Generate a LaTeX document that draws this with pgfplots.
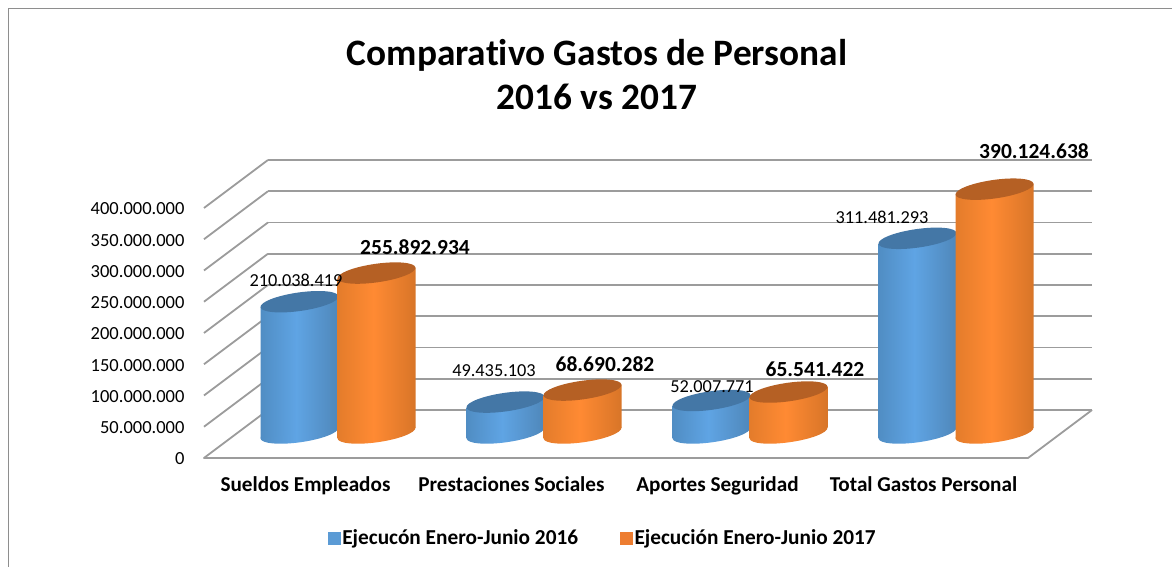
\documentclass[border=0pt]{standalone}
\usepackage{fontspec}
\setmainfont[Ligatures=NoCommon]{Carlito}
\usepackage{pgfplots}
\usepackage{pgfplotstable}
\pgfplotsset{compat=1.18}
\definecolor{gridc}{HTML}{9C9C9C}
\definecolor{frameC}{HTML}{8E8E8E}
\definecolor{sA}{HTML}{2F5F8C}\definecolor{sB}{HTML}{4E8ABF}\definecolor{sC}{HTML}{5FA4E4}\definecolor{sD}{HTML}{4F87BA}\definecolor{sE}{HTML}{38699A}
\definecolor{oA}{HTML}{8C4A17}\definecolor{oB}{HTML}{E07A2A}\definecolor{oC}{HTML}{FF8A33}\definecolor{oD}{HTML}{D87528}\definecolor{oE}{HTML}{8F4C18}
\definecolor{capB}{HTML}{4477A6}\definecolor{capO}{HTML}{B56024}
\definecolor{legB}{HTML}{5B9BD5}\definecolor{legO}{HTML}{ED7D31}
\pgfdeclarehorizontalshading{cylblue}{100bp}{color(0bp)=(sA); color(22bp)=(sB); color(48bp)=(sC); color(75bp)=(sD); color(100bp)=(sE)}
\pgfdeclarehorizontalshading{cylorange}{100bp}{color(0bp)=(oA); color(22bp)=(oB); color(48bp)=(oC); color(75bp)=(oD); color(100bp)=(oE)}
\newdimen\cylh
\newcommand\cylinder[3]{% x offset, shading, cap colour
  \pgftransformxshift{#1}%
  \cylh=\cylv pt\relax
  \begin{pgfscope}
    \pgfpathellipse{\pgfpoint{0pt}{-\cylh}}{\pgfpoint{39pt}{5.5pt}}{\pgfpoint{-1.2pt}{9.2pt}}%
    \pgfshadepath{#2}{0}\pgfusepath{discard}%
  \end{pgfscope}
  \begin{pgfscope}
    \pgfpathmoveto{\pgfpoint{-39pt}{-5.3pt}}%
    \pgfpathlineto{\pgfpoint{39pt}{5.3pt}}%
    \pgfpathlineto{\pgfpointadd{\pgfpoint{39pt}{5.3pt}}{\pgfpoint{0pt}{-\cylh}}}%
    \pgfpathlineto{\pgfpointadd{\pgfpoint{-39pt}{-5.3pt}}{\pgfpoint{0pt}{-\cylh}}}%
    \pgfpathclose
    \pgfshadepath{#2}{0}\pgfusepath{discard}%
  \end{pgfscope}
  \begin{pgfscope}
    \pgfsetfillcolor{#3}%
    \pgfpathellipse{\pgfpointorigin}{\pgfpoint{39pt}{5.5pt}}{\pgfpoint{-1.2pt}{9.2pt}}%
    \pgfusepath{fill}%
  \end{pgfscope}
}
\pgfdeclareplotmark{cylB}{\cylinder{-39.5pt}{cylblue}{capB}}
\pgfdeclareplotmark{cylO}{\cylinder{37.5pt}{cylorange}{capO}}
\pgfplotstableread{
x y lbl dx dy
0 210038419 210.038.419 -43 21
1 49435103 49.435.103 -51 31
2 52007771 52.007.771 -39 13.5
3 311481293 311.481.293 -75 21
}\seriesA
\pgfplotstableread{
x y lbl dx dy
0 255892934 255.892.934 76 26
1 68690282 68.690.282 60 26
2 65541422 65.541.422 64 23
3 390124638 390.124.638 77 38
}\seriesB
\pgfplotsset{base/.style={
  scale only axis, width=824pt, height=250pt, anchor=south west,
  xmin=-0.5, xmax=3.5, ymin=0, ymax=400000000, clip=false,
  axis line style={draw=none}, major tick length=0pt, scaled y ticks=false}}
\begin{document}
\begin{tikzpicture}[x=1pt,y=1pt]
\useasboundingbox (0,0) rectangle (1172,567);
\fill[white] (0,0) rectangle (1172,567);
\draw[frameC,line width=1pt] (8.5,0) -- (8.5,558.5) -- (1172,558.5);
\node[font=\bfseries\fontsize{37.3}{44}\selectfont,align=center] at (597,492) {Comparativo Gastos de Personal\\2016 vs 2017};
% back wall and floor
\begin{axis}[base, at={(268pt,157pt)}, xtick=\empty,
  ytick={0,50000000,100000000,150000000,200000000,250000000,300000000,350000000,400000000},
  yticklabels={}, ymajorgrids, grid style={gridc,line width=1.8pt}]
\pgfplotsinvokeforeach{50000000,100000000,150000000,200000000,250000000,300000000,350000000,400000000}{
  \draw[gridc,line width=1.8pt] (axis cs:-0.5,#1) -- ++(-64pt,-48pt);
}
\draw[gridc,line width=1.8pt,line join=round] (axis cs:-0.5,0) -- ++(-64pt,-48pt) -- ++(824pt,0pt) -- ++(64pt,48pt);
\end{axis}
% front plane: ticks, categories, legend
\begin{axis}[base, at={(204pt,110pt)},
  xtick={0,1,2,3},
  xticklabels={Sueldos Empleados,Prestaciones Sociales,Aportes Seguridad,Total Gastos Personal},
  xticklabel style={font=\bfseries\fontsize{21.2}{24}\selectfont, yshift=-16pt, xshift=-1.5pt},
  ytick={0,50000000,100000000,150000000,200000000,250000000,300000000,350000000,400000000},
  yticklabel style={font=\fontsize{18.5}{20}\selectfont, xshift=-16pt, yshift=-2pt,
    /pgf/number format/.cd, fixed, precision=0, 1000 sep={.}, assume math mode=true},
  legend style={at={(0.484,-0.324)},anchor=center,draw=none,fill=none,legend columns=2,
    font=\bfseries\fontsize{21.3}{24}\selectfont,
    /tikz/every even column/.style={column sep=40pt}},
  legend image code/.code={\fill[#1] (-3pt,-6pt) rectangle (9pt,6pt);}]
\addlegendimage{legB}\addlegendentry{Ejecucón Enero-Junio 2016}
\addlegendimage{legO}\addlegendentry{Ejecución Enero-Junio 2017}
\end{axis}
% cylinders, standing half-way along the floor
\begin{axis}[base, at={(236pt,134pt)}, hide axis]
\addplot[scatter, only marks, mark=cylB, point meta=y,
  visualization depends on=\thisrow{y}*0.000000625\as\cylv] table[x=x,y=y] {\seriesA};
\addplot[scatter, only marks, mark=cylO, point meta=y,
  visualization depends on=\thisrow{y}*0.000000625\as\cylv] table[x=x,y=y] {\seriesB};
\addplot[only marks, mark=none, point meta=explicit symbolic,
  visualization depends on=\thisrow{dx}\as\lblx,
  visualization depends on=\thisrow{dy}\as\lbly,
  nodes near coords, every node near coord/.style={anchor=center,inner sep=0pt,
    xshift=\lblx pt, yshift=\lbly pt, font=\fontsize{18.3}{20}\selectfont}]
  table[x=x,y=y,meta=lbl] {\seriesA};
\addplot[only marks, mark=none, point meta=explicit symbolic,
  visualization depends on=\thisrow{dx}\as\lblx,
  visualization depends on=\thisrow{dy}\as\lbly,
  nodes near coords, every node near coord/.style={anchor=center,inner sep=0pt,
    xshift=\lblx pt, yshift=\lbly pt, font=\bfseries\fontsize{21.5}{24}\selectfont}]
  table[x=x,y=y,meta=lbl] {\seriesB};
\end{axis}
\end{tikzpicture}
\end{document}
